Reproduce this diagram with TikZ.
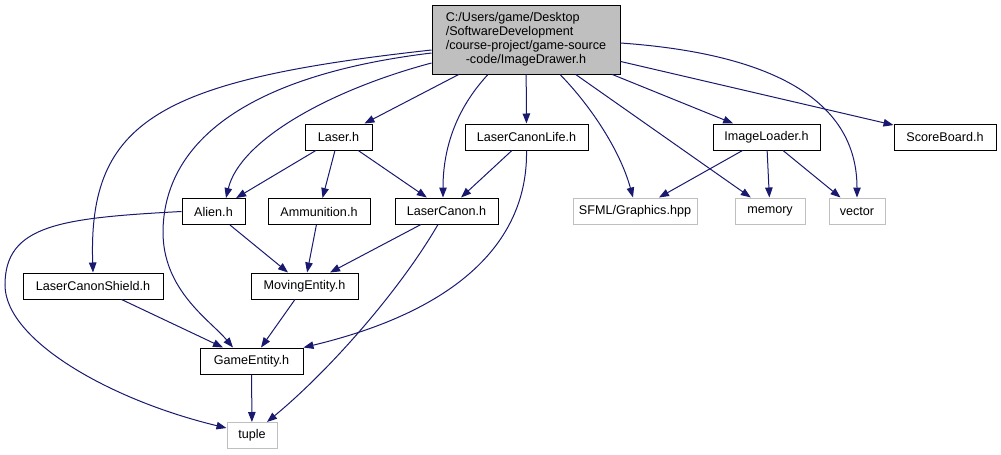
\documentclass[tikz,border=0pt]{standalone}
\usepackage{fontspec}
\setmainfont{Liberation Sans}
\usepackage{tikz}
\usetikzlibrary{arrows.meta,positioning}

\definecolor{edgeblue}{HTML}{191970}
\definecolor{extgray}{HTML}{BFBFBF}

\tikzset{
  file/.style={draw=black, line width=1pt, fill=white, minimum height=26pt, inner sep=0pt, font=\fontsize{12.6}{14}\selectfont},
  extfile/.style={file, draw=extgray},
  dep/.style={draw=edgeblue, line width=1pt, -{Triangle[length=10pt,width=7.5pt]}}
}

\begin{document}
\begin{tikzpicture}[x=1pt, y=-1pt]
  \useasboundingbox (0,0) rectangle (1001,455);

  % Root file
  \node[file, fill=extgray, minimum width=188pt, minimum height=69pt] (root) at (526,39.5) {\begin{tabular}{@{}l@{}}C:/Users/game/Desktop\\/SoftwareDevelopment\\/course-project/game-source\\\multicolumn{1}{@{}c@{}}{-code/ImageDrawer.h}\end{tabular}};

  % First row
  \node[file, minimum width=67pt] (laser) at (338.5,137) {Laser.h};
  \node[file, minimum width=123pt] (canonlife) at (526.5,137) {LaserCanonLife.h};
  \node[file, minimum width=107pt] (loader) at (766.5,137) {ImageLoader.h};
  \node[file, minimum width=102pt] (score) at (945,137) {ScoreBoard.h};

  % Second row
  \node[file, minimum width=63pt] (alien) at (213.5,211.5) {Alien.h};
  \node[file, minimum width=102pt] (ammo) at (319,211.5) {Ammunition.h};
  \node[file, minimum width=103pt] (canon) at (446.5,211) {LaserCanon.h};
  \node[extfile, minimum width=124pt] (sfml) at (635,211) {SFML/Graphics.hpp};
  \node[extfile, minimum width=70pt] (memory) at (770,211) {memory};
  \node[extfile, minimum width=56pt] (vector) at (857,211) {vector};

  % Third row
  \node[file, minimum width=140pt] (shield) at (93,286) {LaserCanonShield.h};
  \node[file, minimum width=107pt] (moving) at (304.5,286) {MovingEntity.h};
  \node[file, minimum width=103pt] (game) at (251.5,361) {GameEntity.h};
  \node[extfile, minimum width=50pt] (tuple) at (252,435.5) {tuple};

  % Includes of the root file
  \draw[dep] (root) -- (laser);
  \draw[dep] (root) -- (canonlife);
  \draw[dep] (root) -- (loader);
  \draw[dep] (root) -- (score);
  \draw[dep] (root) -- (memory);
  \draw[dep] ([xshift=34pt]root.south) .. controls (590,105) and (620,150) .. ([xshift=-2pt]sfml.north);
  \draw[dep] ([yshift=-3.5pt]root.east) .. controls (790,55) and (857,110) .. (vector.north);
  \draw[dep] ([xshift=-38pt]root.south) .. controls (455,110) and (443,150) .. ([xshift=-3.5pt]canon.north);
  \draw[dep] ([yshift=-23.5pt]root.west) .. controls (330,90) and (240,140) .. ([xshift=12.5pt]alien.north);
  \draw[dep] ([yshift=-13.5pt]root.west) .. controls (250,75) and (165,140) .. (163,230) .. controls (162,290) and (210,320) .. ([xshift=-18.5pt]game.north);
  \draw[dep] ([yshift=-10.5pt]root.west) .. controls (160,80) and (88,120) .. (shield.north);

  % Includes further down
  \draw[dep] (laser) -- (alien);
  \draw[dep] (laser) -- (ammo);
  \draw[dep] (laser) -- (canon);
  \draw[dep] (canonlife) -- (canon);
  \draw[dep] (canonlife.south) .. controls (528,240) and (460,310) .. (game.north east);
  \draw[dep] (alien) -- (moving);
  \draw[dep] (alien.west) .. controls (60,218) and (5,225) .. (5,285) .. controls (5,340) and (110,400) .. ([yshift=7.5pt]tuple.west);
  \draw[dep] (ammo) -- (moving);
  \draw[dep] (canon) -- (moving);
  \draw[dep] ([xshift=-8.5pt]canon.south) .. controls (400,290) and (330,370) .. ([xshift=15pt]tuple.north);
  \draw[dep] (shield) -- (game);
  \draw[dep] (moving) -- (game);
  \draw[dep] (game) -- (tuple);
  \draw[dep] (loader) -- (sfml);
  \draw[dep] (loader) -- (memory);
  \draw[dep] (loader) -- (vector);
\end{tikzpicture}
\end{document}
